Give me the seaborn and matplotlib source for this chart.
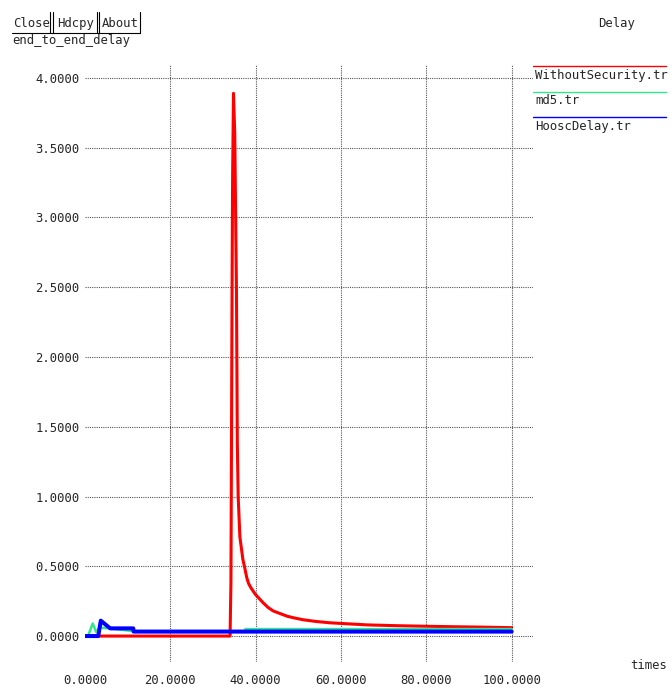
import pandas as pd
import matplotlib
matplotlib.use("Agg")
import matplotlib.pyplot as plt
import seaborn as sns

# -------------------- Data --------------------
series_names = ["WithoutSecurity.tr", "md5.tr", "HooscDelay.tr"]
series_colors = ["#ff0000", "#2ee88c", "#0000ff"]

# WithoutSecurity.tr
red_time = [2.6, 34.0, 34.2, 34.3, 34.5, 34.6, 34.8, 35.1, 35.3, 35.5, 35.7, 35.9,
            36.3, 37.0, 37.5, 37.9, 38.3, 38.8, 39.9, 40.8, 41.7, 42.9, 44.1, 46.0,
            47.4, 49.0, 51.1, 54.0, 57.4, 62.0, 66.1, 73.4, 80.0, 86.0, 93.0, 100.0]
red_delay = [0.0, 0.0, 0.38, 1.14, 2.72, 3.30, 3.89, 3.60, 3.03, 2.47, 1.38, 1.00,
             0.71, 0.55, 0.48, 0.42, 0.38, 0.35, 0.30, 0.27, 0.24, 0.205, 0.18, 0.158,
             0.142, 0.13, 0.117, 0.105, 0.095, 0.087, 0.080, 0.074, 0.070, 0.067,
             0.064, 0.060]

# md5.tr
green_time = [0.0, 0.7, 1.8, 2.6, 3.5, 5.9, 11.3, 37.5, 37.6, 100.0]
green_delay = [0.0, 0.0, 0.09, 0.03, 0.06, 0.055, 0.035, 0.035, 0.05, 0.05]

# HooscDelay.tr
blue_time = [0.0, 3.1, 3.7, 5.9, 11.3, 11.4, 100.0]
blue_delay = [0.0, 0.0, 0.11, 0.055, 0.055, 0.032, 0.032]

x_ticks = [0, 20, 40, 60, 80, 100]
y_ticks = [0.0, 0.5, 1.0, 1.5, 2.0, 2.5, 3.0, 3.5, 4.0]

df_red = pd.DataFrame({"time": red_time, "delay": red_delay})
df_green = pd.DataFrame({"time": green_time, "delay": green_delay})
df_blue = pd.DataFrame({"time": blue_time, "delay": blue_delay})

# -------------------- Figure --------------------
sns.set_style("white")
plt.rcParams['font.family'] = ['DejaVu Sans Mono', 'DejaVu Sans']
FS = 8.8

W, H = 672, 689
fig = plt.figure(figsize=(W / 100, H / 100), dpi=100)
fig.patch.set_facecolor("white")

# plot area (pixels: left 85, right 533, top 65, bottom 662)
ax = fig.add_axes([85 / W, 1 - 662 / H, (533 - 85) / W, (662 - 65) / H])

sns.lineplot(data=df_red, x="time", y="delay", ax=ax, color=series_colors[0],
             lw=2.2, estimator=None, sort=False)
sns.lineplot(data=df_green, x="time", y="delay", ax=ax, color=series_colors[1],
             lw=1.8, estimator=None, sort=False)
sns.lineplot(data=df_blue, x="time", y="delay", ax=ax, color=series_colors[2],
             lw=2.9, estimator=None, sort=False)

ax.set_xlim(0, 105.0)
ax.set_ylim(-0.186, 4.093)
ax.set_xticks(x_ticks)
ax.set_yticks(y_ticks)
ax.set_xticklabels([f"{v:.4f}" for v in x_ticks], fontsize=FS)
ax.set_yticklabels([f"{v:.4f}" for v in y_ticks], fontsize=FS)
ax.tick_params(axis="both", length=0)
ax.tick_params(axis="x", pad=9)
ax.tick_params(axis="y", pad=4)
ax.set_xlabel("")
ax.set_ylabel("")
for s in ax.spines.values():
    s.set_visible(False)
ax.grid(True, color="#555555", lw=0.8, linestyle=(0, (1, 1)))
ax.set_axisbelow(True)
ax.get_xgridlines()[0].set_visible(False)

# -------------------- xgraph decorations (overlay in pixel coords) --------------------
ov = fig.add_axes([0, 0, 1, 1], zorder=-1)
ov.set_xlim(0, W)
ov.set_ylim(H, 0)
ov.axis("off")

# buttons
for xb in [50, 53, 97, 99, 140]:
    ov.plot([xb, xb], [12, 33], color="black", lw=0.8)
ov.plot([12, 140], [33, 33], color="black", lw=0.8)
ov.text(13, 27, "Close", fontsize=FS, va="baseline", ha="left")
ov.text(57, 27, "Hdcpy", fontsize=FS, va="baseline", ha="left")
ov.text(102, 27, "About", fontsize=FS, va="baseline", ha="left")
ov.text(12, 44, "end_to_end_delay", fontsize=FS, va="baseline", ha="left")
ov.text(598, 27, "Delay", fontsize=FS, va="baseline", ha="left")
ov.text(630, 669, "times", fontsize=FS, va="baseline", ha="left")

# legend
for i, (name, col) in enumerate(zip(series_names, series_colors)):
    yl = 66 + i * 25.5
    ov.plot([533, 666], [yl, yl], color=col, lw=1.0)
    ov.text(535, yl + 13, name, fontsize=FS, va="baseline", ha="left")

plt.savefig("out.png", dpi=100, facecolor="white")
